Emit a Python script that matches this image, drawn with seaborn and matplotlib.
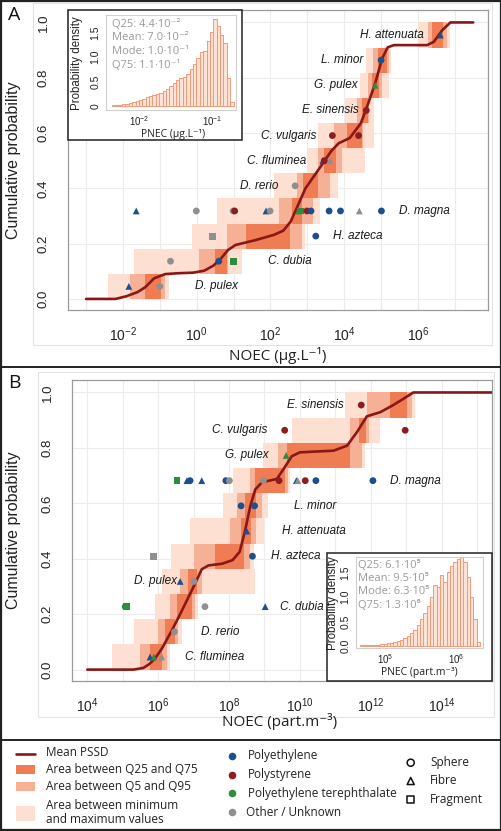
import numpy as np
import pandas as pd
import matplotlib.pyplot as plt
from matplotlib.patches import Rectangle
from matplotlib.lines import Line2D
import seaborn as sns

sns.set_theme(style="white")
plt.rcParams['font.family'] = ['Liberation Sans', 'DejaVu Sans']
plt.rcParams['mathtext.fontset'] = 'custom'
plt.rcParams['mathtext.rm'] = 'Liberation Sans'
plt.rcParams['mathtext.it'] = 'Liberation Sans:italic'

# ---------------- panel A : NOEC in ug/L (log10 values) ----------------
a_species = ["D. pulex", "C. dubia", "H. azteca", "D. magna", "D. rerio", "C. fluminea",
             "C. vulgaris", "E. sinensis", "G. pulex", "L. minor", "H. attenuata"]
a_min = [-2.41, -1.69, -0.14, 0.54, 2.10, 3.00, 3.29, 4.03, 4.44, 4.60, 5.99]
a_max = [-0.76, 1.22, 2.94, 3.35, 3.84, 4.57, 4.82, 4.82, 5.22, 5.28, 6.86]
a_q5 = [-1.82, 0.05, 0.81, 2.24, 2.72, 3.30, 3.73, 4.35, 4.65, 4.79, 6.26]
a_q95 = [-0.87, 0.85, 2.85, 3.16, 3.62, 3.95, 4.52, 4.68, 5.03, 5.22, 6.78]
a_q25 = [-1.40, 0.49, 1.35, 2.59, 2.88, 3.46, 4.07, 4.49, 4.76, 4.93, 6.39]
a_q75 = [-0.98, 0.81, 2.53, 2.85, 3.29, 3.78, 4.49, 4.65, 4.95, 5.17, 6.69]

a_curve_x = [-3.0, -2.2, -1.9, -1.6, -1.4, -1.15, -0.85, -0.5, -0.1, 0.2, 0.45, 0.65, 0.85,
             1.05, 1.6, 2.1, 2.35, 2.55, 2.75, 2.95, 3.3, 3.65, 3.85, 4.15, 4.45, 4.62,
             4.84, 5.03, 5.18, 5.35, 6.25, 6.43, 6.66, 6.88, 7.5]
a_curve_y = [0.0, 0.0, 0.01, 0.025, 0.042, 0.075, 0.09, 0.093, 0.095, 0.102, 0.12, 0.145, 0.177,
             0.195, 0.213, 0.232, 0.247, 0.28, 0.34, 0.40, 0.467, 0.535, 0.563, 0.582, 0.635, 0.695,
             0.78, 0.87, 0.91, 0.918, 0.918, 0.93, 0.972, 1.0, 1.0]

a_pt_species = ["D. pulex", "D. pulex", "C. dubia", "C. dubia", "C. dubia", "H. azteca", "H. azteca",
                "D. magna", "D. magna", "D. magna", "D. magna", "D. magna", "D. magna", "D. magna",
                "D. magna", "D. magna", "D. magna", "D. magna", "D. magna", "D. magna", "D. magna",
                "D. rerio", "C. fluminea", "C. fluminea", "C. fluminea", "C. vulgaris", "C. vulgaris",
                "E. sinensis", "G. pulex", "L. minor", "H. attenuata"]
a_pt_noec = [-1.84, -1.0, -0.71, 0.60, 0.99, 0.42, 3.23,
             -1.64, -0.01, 0.99, 1.03, 1.88, 1.99, 2.76, 2.82, 2.99, 3.10, 3.59, 3.90, 4.41, 5.01,
             2.67, 3.42, 3.46, 3.62, 3.68, 4.39, 4.60, 4.84, 5.00, 6.61]
a_pt_polymer = ["PE", "Other", "Other", "PE", "PET", "Other", "PE",
                "PE", "Other", "Other", "PS", "PE", "Other", "PET", "PET", "PS", "PE", "PE", "PE", "Other", "PE",
                "Other", "PE", "PS", "Other", "PS", "PS", "PS", "PET", "PE", "PE"]
a_pt_shape = ["Fibre", "Sphere", "Sphere", "Sphere", "Fragment", "Fragment", "Sphere",
              "Fibre", "Sphere", "Sphere", "Sphere", "Fibre", "Sphere", "Fibre", "Fragment", "Sphere",
              "Sphere", "Sphere", "Sphere", "Fibre", "Sphere",
              "Sphere", "Fibre", "Sphere", "Fibre", "Sphere", "Sphere", "Sphere", "Fibre", "Sphere", "Fibre"]

a_lab_x = [-0.05, 1.94, 3.71, 5.48, 2.21, 2.97, 3.24, 4.39, 4.36, 4.52, 6.15]
a_lab_ha = ["left", "left", "left", "left", "right", "right", "right", "right", "right", "right", "right"]

a_hist = [0.02, 0.02, 0.03, 0.04, 0.05, 0.07, 0.09, 0.11, 0.13, 0.15, 0.18, 0.20,
          0.23, 0.24, 0.26, 0.30, 0.35, 0.41, 0.46, 0.52, 0.58, 0.60, 0.66, 0.75,
          0.85, 0.97, 1.10, 1.12, 1.33, 1.50, 1.78, 1.62, 1.45, 1.28, 0.57, 0.08]
a_hist_range = (-2.37, -0.71)
a_stats = ["Q25: 4.4·10⁻²", "Mean: 7.0·10⁻²", "Mode: 1.0·10⁻¹", "Q75: 1.1·10⁻¹"]

# ---------------- panel B : NOEC in part/m3 (log10 values) ----------------
b_species = ["C. fluminea", "D. rerio", "C. dubia", "D. pulex", "H. azteca", "H. attenuata",
             "L. minor", "D. magna", "G. pulex", "C. vulgaris", "E. sinensis"]
b_min = [4.69, 5.31, 5.91, 6.10, 6.36, 6.90, 7.84, 8.12, 8.95, 9.77, 11.28]
b_max = [6.34, 6.66, 7.13, 8.74, 8.70, 9.00, 9.10, 9.73, 11.85, 12.25, 13.26]
b_q5 = [5.49, 6.00, 6.34, 6.62, 7.00, 8.03, 8.22, 8.60, 9.37, 11.40, 11.89]
b_q95 = [6.24, 6.57, 7.04, 7.25, 8.60, 8.76, 8.93, 9.66, 11.75, 11.95, 13.16]
b_q25 = [5.77, 6.19, 6.53, 6.85, 7.61, 8.33, 8.45, 8.72, 9.63, 11.66, 12.55]
b_q75 = [6.12, 6.48, 6.95, 7.09, 8.41, 8.62, 8.76, 9.58, 11.42, 11.87, 13.02]

b_curve_x = [4.0, 5.3, 5.58, 5.75, 5.91, 6.10, 6.38, 6.62, 6.85, 7.04, 7.23, 7.42, 7.8, 8.1,
             8.3, 8.45, 8.6, 8.74, 8.93, 9.35, 9.54, 9.77, 10.0, 10.95, 11.33, 11.61, 11.89,
             12.27, 12.64, 12.93, 13.2, 15.5]
b_curve_y = [0.0, 0.0, 0.006, 0.02, 0.04, 0.075, 0.14, 0.20, 0.26, 0.31, 0.362, 0.376, 0.382, 0.395,
             0.425, 0.50, 0.59, 0.65, 0.676, 0.688, 0.724, 0.77, 0.784, 0.79, 0.808, 0.857, 0.914,
             0.929, 0.955, 0.978, 1.0, 1.0]

b_pt_species = ["C. fluminea", "C. fluminea", "C. fluminea", "D. rerio", "C. dubia", "C. dubia",
                "C. dubia", "C. dubia", "D. pulex", "D. pulex", "H. azteca", "H. azteca",
                "H. attenuata", "L. minor", "L. minor",
                "D. magna", "D. magna", "D. magna", "D. magna", "D. magna", "D. magna", "D. magna",
                "D. magna", "D. magna", "D. magna", "D. magna", "D. magna", "D. magna",
                "G. pulex", "C. vulgaris", "C. vulgaris", "E. sinensis"]
b_pt_noec = [5.77, 5.88, 6.10, 6.46, 5.07, 5.10, 7.32, 9.02, 6.62, 7.01, 5.86, 8.66,
             8.50, 8.34, 8.72,
             6.53, 6.81, 6.90, 7.23, 7.91, 8.01, 8.97, 9.41, 9.90, 9.94, 10.15, 10.45, 12.06,
             9.61, 9.57, 12.97, 11.73]
b_pt_polymer = ["PE", "PET", "Other", "Other", "PET", "PET", "Other", "PE", "PE", "Other", "Other", "PE",
                "PE", "PE", "PE",
                "PET", "PE", "PE", "PE", "PE", "Other", "Other", "PS", "PE", "Other", "PS", "PE", "PE",
                "PET", "PS", "PS", "PS"]
b_pt_shape = ["Fibre", "Fibre", "Fibre", "Sphere", "Sphere", "Fragment", "Sphere", "Fibre", "Fibre",
              "Sphere", "Fragment", "Sphere", "Fibre", "Sphere", "Sphere",
              "Fragment", "Fibre", "Sphere", "Fibre", "Sphere", "Sphere", "Sphere", "Sphere", "Fibre",
              "Fibre", "Sphere", "Sphere", "Sphere",
              "Fibre", "Sphere", "Sphere", "Sphere"]

b_lab_x = [6.76, 7.21, 9.44, 6.53, 9.18, 9.49, 9.82, 12.55, 9.11, 9.08, 11.25]
b_lab_ha = ["left", "left", "left", "right", "left", "left", "left", "left", "right", "right", "right"]

b_hist = [0.02, 0.02, 0.02, 0.02, 0.03, 0.03, 0.04, 0.05, 0.06, 0.07, 0.09, 0.11,
          0.13, 0.16, 0.20, 0.27, 0.33, 0.42, 0.55, 0.68, 0.82, 1.00, 1.25, 1.20,
          1.45, 1.30, 1.50, 1.62, 1.72, 1.78, 1.85, 1.72, 1.40, 1.00, 0.55, 0.08]
b_hist_range = (4.65, 6.34)
b_stats = ["Q25: 6.1·10⁵", "Mean: 9.5·10⁵", "Mode: 6.3·10⁵", "Q75: 1.3·10⁶"]

# ---------------- styling ----------------
poly_colors = {"PE": "#1d4f8e", "PS": "#8b1c1f", "PET": "#2e8c3f", "Other": "#8f8f8f"}
shape_markers = {"Sphere": "o", "Fibre": "^", "Fragment": "s"}
band_cols = ["#fde0d2", "#f6b095", "#ef7c52"]
curve_col = "#8a1717"
frame_col = "#9a9a9a"
TXT = ['Open Sans', 'DejaVu Sans']

W, H = 502, 831
fig = plt.figure(figsize=(W / 100, H / 100), dpi=100)


def rect(x0, y0, x1, y1):
    return [x0 / W, 1 - y1 / H, (x1 - x0) / W, (y1 - y0) / H]


def fp(x, y):
    return x / W, 1 - y / H


def main_panel(r, xlim, species, bands, cx, cy, pts, lab_x, lab_ha, majors, minors):
    ax = fig.add_axes(r)
    n = len(species)
    levels = (np.arange(n) + 0.5) / n
    for (lo, hi), col in zip(bands, band_cols):
        ax.barh(levels, np.array(hi) - np.array(lo), left=lo, height=1 / n,
                color=col, linewidth=0, zorder=1)
    sns.lineplot(x=cx, y=cy, sort=False, color=curve_col, lw=1.9, ax=ax, zorder=3)
    df = pd.DataFrame({"species": pts[0], "noec": pts[1], "polymer": pts[2], "shape": pts[3]})
    df["y"] = [levels[species.index(s)] for s in df["species"]]
    sns.scatterplot(data=df, x="noec", y="y", hue="polymer", style="shape",
                    palette=poly_colors, markers=shape_markers, s=24, linewidth=0,
                    legend=False, ax=ax, zorder=4)
    for name, lx, ha, lv in zip(species, lab_x, lab_ha, levels):
        ax.text(lx, lv, name, style="italic", ha=ha, va="center", fontsize=8.5,
                color="#1a1a1a", zorder=5)
    ax.set_xlim(*xlim)
    ax.set_ylim(-0.04, 1.045)
    ax.set_xticks(majors)
    ax.set_xticklabels([f"$10^{{{k}}}$" for k in majors], fontsize=10)
    ax.set_xticks(minors, minor=True)
    ax.set_yticks([0, 0.2, 0.4, 0.6, 0.8, 1.0])
    ax.set_yticklabels(["0.0", "0.2", "0.4", "0.6", "0.8", "1.0"], fontsize=9.5,
                       rotation=90, va="center")
    ax.tick_params(axis="both", which="major", length=5, width=0.8, color=frame_col,
                   direction="out", pad=3, labelcolor="#222222")
    ax.tick_params(axis="y", pad=8)
    ax.tick_params(axis="x", pad=6)
    ax.tick_params(axis="x", which="minor", length=0)
    ax.grid(True, which="both", axis="x", color="#ececec", lw=0.8)
    ax.grid(True, which="major", axis="y", color="#ececec", lw=0.8)
    ax.set_axisbelow(True)
    for sp in ax.spines.values():
        sp.set_color(frame_col)
        sp.set_linewidth(0.9)
    ax.set_xlabel("")
    ax.set_ylabel("")
    return ax


def inset(outer, inner, heights, hrange, xlim, ylim, xt, yt, ytl, stats, stat_xy, ylab_xy, xlab, xlab_xy):
    fig.add_artist(Rectangle(fp(outer[0], outer[3]), (outer[2] - outer[0]) / W,
                             (outer[3] - outer[1]) / H, transform=fig.transFigure,
                             facecolor="white", edgecolor="#222222", lw=1.1, zorder=1.5))
    ax = fig.add_axes(rect(*inner))
    ax.set_zorder(2)
    edges = np.linspace(hrange[0], hrange[1], len(heights) + 1)
    hd = pd.DataFrame({"pnec": (edges[:-1] + edges[1:]) / 2, "density": heights})
    sns.histplot(data=hd, x="pnec", weights="density", bins=list(edges), color="#fde3d6",
                 edgecolor="#f29a78", alpha=1, linewidth=0.7, ax=ax)
    ax.set_xlim(*xlim)
    ax.set_ylim(*ylim)
    ax.set_xticks(xt)
    ax.set_xticklabels([f"$10^{{{k}}}$" for k in xt], fontsize=7)
    ax.set_yticks(yt)
    ax.set_yticklabels(ytl, fontsize=7.5, rotation=90, va="center")
    ax.tick_params(axis="both", length=2.5, width=0.7, color=frame_col, direction="out",
                   pad=1.5, labelcolor="#222222")
    ax.tick_params(axis="x", pad=0.5)
    for sp in ax.spines.values():
        sp.set_color("#cfcfcf")
        sp.set_linewidth(0.8)
    ax.set_xlabel("")
    ax.set_ylabel("")
    for i, s in enumerate(stats):
        fig.text(*fp(stat_xy[0], stat_xy[1] + i * 13.5), s, fontsize=8, color="#9a9a9a",
                 family=TXT, ha="left", va="center", zorder=3)
    fig.text(*fp(*ylab_xy), "Probability density", rotation=90, fontsize=8.3,
             ha="center", va="center", color="#222222", zorder=3)
    fig.text(*fp(*xlab_xy), xlab, fontsize=7.5, family=TXT, ha="center", va="center",
             color="#222222", zorder=3)


# ---- panel A ----
main_panel(rect(68, 10, 488, 310), (-3.49, 7.9), a_species,
           [(a_min, a_max), (a_q5, a_q95), (a_q25, a_q75)],
           a_curve_x, a_curve_y, (a_pt_species, a_pt_noec, a_pt_polymer, a_pt_shape),
           a_lab_x, a_lab_ha, [-2, 0, 2, 4, 6], list(range(-3, 8)))
inset((68.3, 10, 241.7, 140), (105.7, 15, 235.7, 110), a_hist, a_hist_range,
      (-2.454, -0.681), (-0.081, 1.852), [-2, -1], [0, 0.5, 1.0, 1.5], ["0", "0.5", "1.0", "1.5"],
      a_stats, (112, 24.5), (77, 63), "PNEC (µg.L⁻¹)", (173, 134))

# ---- panel B ----
main_panel(rect(71.7, 380, 492, 680.7), (3.56, 15.42), b_species,
           [(b_min, b_max), (b_q5, b_q95), (b_q25, b_q75)],
           b_curve_x, b_curve_y, (b_pt_species, b_pt_noec, b_pt_polymer, b_pt_shape),
           b_lab_x, b_lab_ha, [4, 6, 8, 10, 12, 14], list(range(4, 16)))
inset((326.7, 553.3, 492, 680.7), (355.7, 556.7, 482.7, 648.3), b_hist, b_hist_range,
      (4.587, 6.376), (-0.047, 1.818), [5, 6], [0, 0.5, 1.0, 1.5], ["0.0", "0.5", "1.0", "1.5"],
      b_stats, (358, 565), (333, 603), "PNEC (part.m⁻³)", (419, 672))

# ---- axis titles, panel letters ----
fig.text(*fp(14, 160), "Cumulative probability", rotation=90, fontsize=11.5, ha="center",
         va="center", color="#222222")
fig.text(*fp(14, 530), "Cumulative probability", rotation=90, fontsize=11.5, ha="center",
         va="center", color="#222222")
fig.text(*fp(278, 356), "NOEC (µg.L⁻¹)", fontsize=11, family=TXT, ha="center", va="center",
         color="#222222")
fig.text(*fp(280, 722), "NOEC (part.m⁻³)", fontsize=11, family=TXT, ha="center", va="center",
         color="#222222")
fig.text(*fp(14, 15), "A", fontsize=14, family=TXT, ha="center", va="center", color="#111111")
fig.text(*fp(14, 383), "B", fontsize=14, family=TXT, ha="center", va="center", color="#111111")

# ---- frames ----
for (x0, y0, x1, y1) in [(33, 3, 492, 345), (38, 372, 494, 717)]:
    fig.add_artist(Rectangle(fp(x0, y1), (x1 - x0) / W, (y1 - y0) / H, transform=fig.transFigure,
                             facecolor="none", edgecolor="#e2e2e2", lw=0.8, zorder=0.5))
fig.add_artist(Rectangle((0.001, 0.001), 0.998, 0.998, transform=fig.transFigure,
                         facecolor="none", edgecolor="#222222", lw=1.6, zorder=6))
for yy in [367, 740]:
    fig.add_artist(Line2D([0, 1], [1 - yy / H] * 2, transform=fig.transFigure,
                          color="#222222", lw=1.4, zorder=6))

# ---- legend ----
lg = fig.add_axes([0, 0, 1, 1 - 740 / H])
lg.set_xlim(0, W)
lg.set_ylim(831, 740)
lg.axis("off")
lg.plot([16, 35], [753.5, 753.5], color=curve_col, lw=1.9)
for (y0, y1), col in zip([(765, 774), (782, 791), (806, 821)], band_cols[::-1]):
    lg.add_patch(Rectangle((16, y0), 19, y1 - y0, facecolor=col, edgecolor="none"))
legend_txt = dict(fontsize=8.5, family=TXT, va="center", color="#222222")
lg.text(46, 753, "Mean PSSD", **legend_txt)
lg.text(46, 769.5, "Area between Q25 and Q75", **legend_txt)
lg.text(46, 786.5, "Area between Q5 and Q95", **legend_txt)
lg.text(46, 805.5, "Area between minimum", **legend_txt)
lg.text(46, 820, "and maximum values", **legend_txt)
poly_names = ["Polyethylene", "Polystyrene", "Polyethylene terephthalate", "Other / Unknown"]
for i, (key, nm) in enumerate(zip(["PE", "PS", "PET", "Other"], poly_names)):
    yy = 755.7 + i * 18.9
    lg.scatter([231.7], [yy], s=30, color=poly_colors[key], linewidth=0)
    lg.text(248 if key != "Other" else 246, yy, nm, **legend_txt)
for i, (nm, mk) in enumerate(shape_markers.items()):
    yy = 762.7 + i * 18.3
    lg.scatter([410.7], [yy], s=26, marker=mk, facecolor="none", edgecolor="#111111", linewidth=1.1)
    lg.text(430, yy, nm, **legend_txt)

fig.savefig("out.png", dpi=100)
